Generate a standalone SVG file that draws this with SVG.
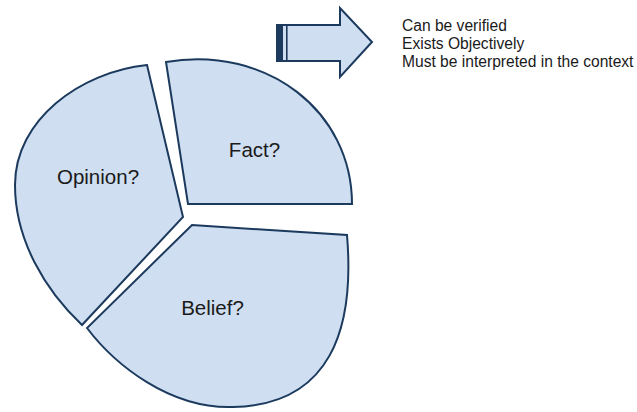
<svg xmlns="http://www.w3.org/2000/svg" width="637" height="412" viewBox="0 0 637 412">
<style>
.seg{fill:#cfdef0;stroke:#1c3a5e;stroke-width:2;stroke-linejoin:miter}
.lbl{font-family:"Liberation Sans",Arial,sans-serif;font-size:20.5px;fill:#1a1a1a;text-anchor:middle}
.note{font-family:"Liberation Sans",Arial,sans-serif;font-size:15.6px;fill:#1a1a1a}
</style>
<rect width="637" height="412" fill="#ffffff"/>
<g id="opinion">
<path class="seg" d="M147,65 L183,217 L82,325 C45,290 15,240 15,185 C15,120 80,72 147,65 Z"/>
<text class="lbl" x="98" y="184">Opinion?</text>
</g>
<g id="fact">
<path class="seg" d="M166,62 C268,45 352,112 352,204 L188,204 Z"/>
<text class="lbl" x="254.5" y="157">Fact?</text>
</g>
<g id="belief">
<path class="seg" d="M192,225 L347,235 C355,330 330,405 233,407 C170,409 115,365 87,328 Z"/>
<text class="lbl" x="212.5" y="315">Belief?</text>
</g>
<g id="arrow">
<path class="seg" d="M277,25 L340,25 L340,8 L372,42 L340,77 L340,61 L277,61 Z"/>
<rect x="277" y="25" width="6" height="36" fill="#1c3a5e"/>
<line x1="286.8" y1="25" x2="286.8" y2="61" stroke="#1c3a5e" stroke-width="1.6"/>
</g>
<g id="notes">
<text class="note" x="402" y="30.7">Can be verified</text>
<text class="note" x="402" y="49">Exists Objectively</text>
<text class="note" x="402" y="67.3">Must be interpreted in the context</text>
</g>
</svg>
